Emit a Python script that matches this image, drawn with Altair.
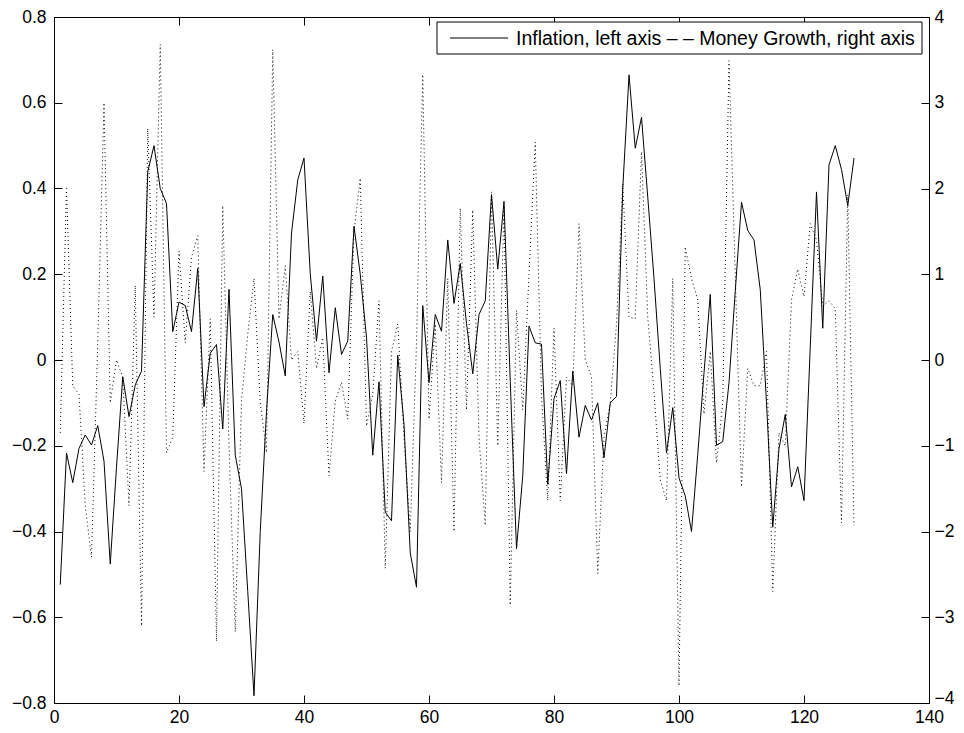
import altair as alt
import pandas as pd

# ---------------- data ----------------
t = list(range(1, 129))

inflation = [
    -0.524, -0.217, -0.286, -0.206, -0.175, -0.198, -0.153, -0.236, -0.476, -0.25,
    -0.039, -0.132, -0.058, -0.026, 0.439, 0.50, 0.40, 0.365, 0.066, 0.135,
    0.127, 0.066, 0.214, -0.109, 0.016, 0.036, -0.161, 0.165, -0.222, -0.30,
    -0.54, -0.783, -0.40, -0.12, 0.106, 0.042, -0.037, 0.296, 0.42, 0.471,
    0.201, 0.044, 0.196, -0.03, 0.122, 0.013, 0.044, 0.312, 0.20, 0.053,
    -0.222, -0.051, -0.355, -0.375, 0.011, -0.15, -0.45, -0.53, 0.127, -0.053,
    0.106, 0.067, 0.28, 0.132, 0.225, 0.085, -0.032, 0.106, 0.138, 0.386,
    0.212, 0.37, -0.05, -0.44, -0.27, 0.079, 0.04, 0.037, -0.29, -0.09,
    -0.048, -0.265, -0.026, -0.18, -0.106, -0.14, -0.10, -0.228, -0.10, -0.085,
    0.40, 0.665, 0.494, 0.566, 0.38, 0.19, -0.02, -0.217, -0.111, -0.275,
    -0.317, -0.40, -0.22, -0.03, 0.153, -0.199, -0.19, -0.053, 0.16, 0.368,
    0.302, 0.28, 0.164, -0.10, -0.39, -0.207, -0.127, -0.296, -0.249, -0.328,
    0.03, 0.392, 0.074, 0.455, 0.50, 0.444, 0.36, 0.471,
]

money = [
    -0.85, 2.0, -0.3, -0.4, -1.7, -2.3, 0.2, 3.0, -0.5, 0.0,
    -0.2, -1.7, 0.87, -3.1, 2.7, 0.5, 3.68, -1.08, -0.9, 1.27,
    0.2, 1.2, 1.45, -1.3, 0.48, -3.28, 1.8, -1.0, -3.17, -0.48,
    0.3, 0.95, -0.5, -1.08, 3.62, 0.48, 1.1, 0.0, 0.1, -0.74,
    0.8, -0.1, 0.26, -1.35, -0.48, -0.26, -0.69, 1.5, 2.12, -0.77,
    -0.4, 0.69, -2.43, 0.1, 0.42, -0.9, -2.0, 0.2, 3.33, -0.69,
    0.42, -1.43, 0.95, -2.0, 1.77, -0.58, 1.75, -0.9, -1.93, 1.96,
    -1.0, 1.8, -2.86, 0.58, -0.58, 1.0, 2.54, -0.42, -1.64, 0.37,
    -1.64, -0.2, -0.3, 1.59, 0.0, -0.2, -2.49, -0.9, -0.5, 0.42,
    2.06, 0.5, 0.48, 2.43, 0.5, -0.37, -1.4, -1.64, 0.95, -3.8,
    1.32, 0.95, 0.7, -0.63, 0.1, -1.2, -0.5, 3.49, 1.0, -1.48,
    -0.1, -0.3, -0.3, 0.1, -2.7, -0.85, -1.0, 0.7, 1.06, 0.74,
    1.59, 1.4, 0.63, 0.69, 0.6, -1.9, 1.93, -1.93,
]

x_ticks = [0, 20, 40, 60, 80, 100, 120, 140]
left_ticks = [-0.8, -0.6, -0.4, -0.2, 0.0, 0.2, 0.4, 0.6, 0.8]
right_ticks = [-4, -3, -2, -1, 0, 1, 2, 3, 4]
legend_label = "Inflation, left axis \u2013 \u2013 Money Growth, right axis"

df = pd.DataFrame({"t": t, "inflation": inflation, "money": money})
legend_df = pd.DataFrame({"label": [legend_label]})

FONT = "Liberation Sans"
FS = 17.5
TICK = 8
W, H = 875, 686

left_expr = ("abs(datum.value) < 1e-9 ? '0' : "
             "replace(format(datum.value, '.1f'), '-', '\u2212')")
right_expr = "replace(format(datum.value, 'd'), '-', '\u2212')"

common_axis = dict(domain=False, grid=False, title=None, tickColor="black",
                   tickSize=TICK, offset=-TICK, labelFont=FONT, labelFontSize=FS,
                   labelColor="black", labelFlush=False, labelOverlap=False)

xscale = alt.Scale(domain=[0, 140], nice=False, zero=False)

base = alt.Chart(df)

infl_line = base.mark_line(strokeWidth=1, color="black").encode(
    x=alt.X("t:Q", scale=xscale,
            axis=alt.Axis(orient="bottom", values=x_ticks, format="d",
                          labelPadding=5, **common_axis)),
    y=alt.Y("inflation:Q",
            scale=alt.Scale(domain=[-0.8, 0.8], nice=False, zero=False),
            axis=alt.Axis(orient="left", values=left_ticks, labelExpr=left_expr,
                          labelPadding=8, **common_axis)),
)

money_line = base.mark_line(strokeWidth=1, color="black",
                            strokeDash=[1, 3]).encode(
    x=alt.X("t:Q", scale=xscale,
            axis=alt.Axis(orient="top", values=x_ticks, labels=False,
                          **common_axis)),
    y=alt.Y("money:Q",
            scale=alt.Scale(domain=[-4, 4], nice=False, zero=False),
            axis=alt.Axis(orient="right", values=right_ticks, labelExpr=right_expr,
                          labelPadding=5,
                          labelOffset={"condition": {"test": "datum.value == -4",
                                                     "value": -5},
                                       "value": 0},
                          **common_axis)),
)

# legend box (decoration, in pixel space of the plot area)
legend_box = alt.Chart(legend_df).mark_rect(
    fill="white", stroke="black", strokeWidth=1
).encode(x=alt.value(383), x2=alt.value(868), y=alt.value(5), y2=alt.value(37))

legend_sample = alt.Chart(legend_df).mark_rule(
    color="black", strokeWidth=1
).encode(x=alt.value(396), x2=alt.value(454), y=alt.value(21))

legend_text = alt.Chart(legend_df).mark_text(
    align="left", baseline="middle", font=FONT, fontSize=19.5, color="black"
).encode(x=alt.value(462), y=alt.value(21.5), text="label:N")

chart = (
    alt.layer(money_line, infl_line, legend_box, legend_sample, legend_text)
    .resolve_scale(y="independent")
    .resolve_axis(x="independent", y="independent")
    .properties(width=W, height=H,
                autosize=alt.AutoSizeParams(type="none"),
                padding={"left": 46, "top": 9, "right": 25, "bottom": 22},
                background="white")
    .configure_view(stroke="black", strokeWidth=1)
)

chart.save("out.html", embed_options={"renderer": "svg", "actions": False})
